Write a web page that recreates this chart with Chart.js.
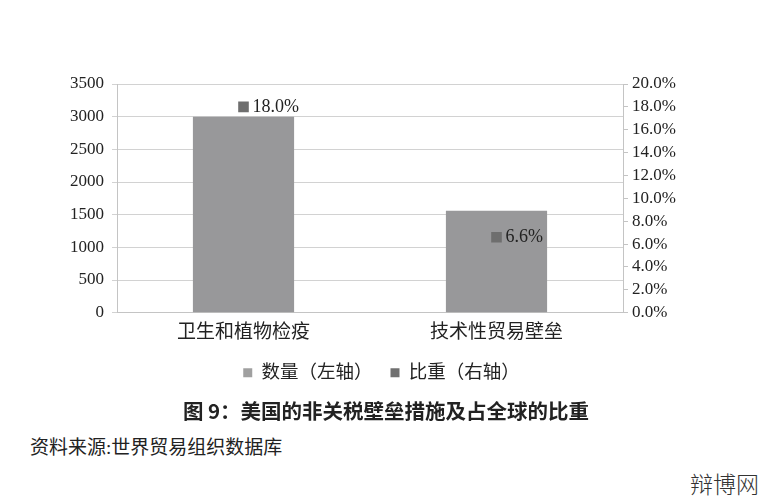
<!DOCTYPE html>
<html>
<head>
<meta charset="utf-8">
<script src="https://cdn.jsdelivr.net/npm/chart.js@4.4.1/dist/chart.umd.min.js"></script>
<style>
  body{margin:0;background:#fff;width:763px;height:500px;overflow:hidden;position:relative;}
  #wrap{position:absolute;left:0;top:0;width:763px;height:400px;}
  .txt{position:absolute;font-family:"Liberation Serif","Noto Sans CJK SC",serif;color:#222;white-space:nowrap;}
  #title{left:0;width:772px;top:395px;text-align:center;font-size:20.5px;font-weight:bold;font-family:"Noto Sans CJK SC",sans-serif;}
  #source{left:30px;top:432px;font-size:19px;}
  #mark{left:690px;top:466px;font-size:23px;color:#333;font-family:"Noto Sans CJK SC",sans-serif;font-weight:300;}
</style>
</head>
<body>
<div id="wrap"><canvas id="c"></canvas></div>
<div class="txt" id="title">图 9：美国的非关税壁垒措施及占全球的比重</div>
<div class="txt" id="source">资料来源:世界贸易组织数据库</div>
<div class="txt" id="mark">辩博网</div>
<script>
// data
const categories = ["卫生和植物检疫", "技术性贸易壁垒"];
const counts = [3000, 1560];       // 数量（左轴）
const shares = [18.0, 6.6];        // 比重（右轴）, %
const seriesNames = ["数量（左轴）", "比重（右轴）"];

const serif = '"Liberation Serif", "Noto Sans CJK SC", serif';

// labels beside the share markers
const shareLabels = {
  id: 'shareLabels',
  afterDatasetsDraw(chart){
    const meta = chart.getDatasetMeta(1);
    const ctx = chart.ctx;
    ctx.save();
    ctx.font = '18px ' + serif;
    ctx.fillStyle = '#222';
    ctx.textBaseline = 'middle';
    meta.data.forEach((pt, i)=>{
      ctx.fillText(shares[i].toFixed(1) + '%', pt.x + 9, pt.y);
    });
    ctx.restore();
  }
};

new Chart(document.getElementById('c'), {
  data: {
    labels: categories,
    datasets: [{
      type: 'bar',
      label: seriesNames[0],
      data: counts,
      yAxisID: 'y',
      backgroundColor: '#98989a',
      categoryPercentage: 1,
      barPercentage: 0.4,
      order: 2
    },{
      type: 'line',
      label: seriesNames[1],
      data: shares,
      yAxisID: 'y2',
      showLine: false,
      pointStyle: 'rect',
      pointRadius: 7.5,
      backgroundColor: '#6e6e6e',
      borderColor: '#6e6e6e',
      borderWidth: 0,
      order: 1
    }]
  },
  options: {
    responsive: true,
    maintainAspectRatio: false,
    animation: false,
    layout: { padding: { top: 84, left: 0, right: 0, bottom: 8 } },
    plugins: {
      legend: {
        position: 'bottom',
        labels: {
          font: { size: 18.5, family: serif },
          color: '#222',
          boxWidth: 9,
          boxHeight: 9,
          padding: 18,
          generateLabels(chart){
            const cols = ['#a0a0a0', '#707070'];
            return seriesNames.map((n, i)=>({
              text: n, fillStyle: cols[i], strokeStyle: cols[i], lineWidth: 0,
              datasetIndex: i, fontColor: '#222'
            }));
          }
        }
      },
      tooltip: { enabled: false }
    },
    scales: {
      x: {
        grid: { display: false },
        border: { color: '#c4c4c4' },
        ticks: { font: { size: 19, family: serif }, color: '#222', padding: 1 }
      },
      y: {
        position: 'left',
        min: 0, max: 3500,
        ticks: { stepSize: 500, font: { size: 17, family: serif }, color: '#222', padding: 8,
          callback: v => String(v) },
        grid: { color: '#d2d2d2', tickLength: 5 },
        border: { color: '#c4c4c4' },
        afterFit(s){ s.width = 117; }
      },
      y2: {
        position: 'right',
        min: 0, max: 20,
        ticks: { stepSize: 2, autoSkip: false, font: { size: 17, family: serif }, color: '#222', padding: 4,
          callback: v => v.toFixed(1) + '%' },
        grid: { drawOnChartArea: false, color: '#c4c4c4', tickLength: 5 },
        border: { color: '#c4c4c4' },
        afterFit(s){ s.width = 140; }
      }
    }
  },
  plugins: [shareLabels]
});
</script>
</body>
</html>
